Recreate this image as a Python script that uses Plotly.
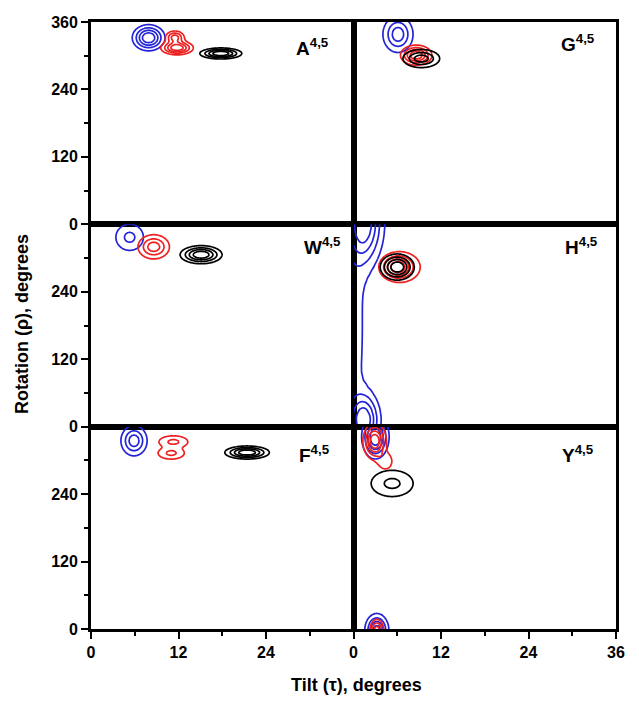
import numpy as np
import plotly.graph_objects as go
from plotly.subplots import make_subplots

# Peak parameters: [tilt, rotation, sd_tilt, sd_rot, weight]
A_blue = [[7.9, 332, 1.25, 13, 1.0]]
A_red = [[11.8, 314, 1.25, 7, 1.0], [11.5, 333, 0.8, 7, 0.7]]
A_black = [[17.8, 304, 1.6, 5.5, 1.0]]

G_blue = [[6.1, 338, 1.15, 18, 1.0]]
G_red = [[8.6, 301, 1.2, 10, 1.0]]
G_black = [[9.3, 295, 1.4, 9, 1.0]]

W_blue = [[5.3, 337, 1.05, 13, 1.0]]
W_red = [[8.6, 320, 1.2, 12, 1.0]]
W_black = [[15.1, 306, 1.6, 9, 1.0]]

H_blue = [[1.5, 12, 1.3, 28, 1.0], [1.5, 362, 1.6, 45, 1.0], [0.0, 180, 1.6, 200, 0.3]]
H_red = [[6.0, 284, 1.3, 13, 1.0], [7.0, 284, 2.4, 24, 0.3]]
H_black = [[6.0, 284, 1.3, 13, 1.0]]

F_blue = [[5.9, 335, 1.0, 15, 1.0]]
F_red = [[11.3, 333, 1.1, 6, 1.0], [11.0, 313, 1.0, 6, 1.0]]
F_black = [[21.4, 314, 1.7, 6.5, 1.0]]

Y_blue = [[3.0, 342, 1.05, 22, 1.0], [3.2, -2, 0.95, 17, 0.9]]
Y_red = [[2.9, 334, 0.9, 18, 1.0], [4.4, 298, 0.8, 12, 0.35], [3.2, -2, 0.6, 12, 0.7]]
Y_black = [[5.3, 259, 1.6, 13, 1.0]]

# number of contour rings per series: blue, red, black
A_rings = [4, 4, 4]
G_rings = [3, 4, 3]
W_rings = [2, 3, 4]
H_rings = [4, 4, 4]
F_rings = [3, 2, 4]
Y_rings = [4, 4, 2]

panel_names = ["A", "G", "W", "H", "F", "Y"]
panel_rows = [1, 1, 2, 2, 3, 3]
panel_cols = [1, 2, 1, 2, 1, 2]
label_x = [0.842, 0.857, 0.88, 0.868, 0.853, 0.857]
label_y = [0.875, 0.895, 0.892, 0.892, 0.864, 0.864]

x_ticks_left = [0, 12, 24]
x_ticks_right = [0, 12, 24, 36]
x_minor = [6, 18, 30]
y_ticks_top = [0, 120, 240, 360]
y_ticks_other = [0, 120, 240]
y_minor = [60, 180, 300]

series = {
    "A": (A_blue, A_red, A_black, A_rings),
    "G": (G_blue, G_red, G_black, G_rings),
    "W": (W_blue, W_red, W_black, W_rings),
    "H": (H_blue, H_red, H_black, H_rings),
    "F": (F_blue, F_red, F_black, F_rings),
    "Y": (Y_blue, Y_red, Y_black, Y_rings),
}
colors = ["#2323d8", "#ee2020", "#000000"]


def density(peaks):
    p = np.array(peaks, dtype=float)
    tmin = (p[:, 0] - 4.5 * p[:, 2]).min()
    tmax = (p[:, 0] + 4.5 * p[:, 2]).max()
    rmin = (p[:, 1] - 4.5 * p[:, 3]).min()
    rmax = (p[:, 1] + 4.5 * p[:, 3]).max()
    t = np.linspace(tmin, tmax, 90)
    r = np.linspace(rmin, rmax, 140)
    T, R = np.meshgrid(t, r)
    Z = np.zeros_like(T)
    for t0, r0, st, sr, w in p:
        Z += w * np.exp(-0.5 * ((T - t0) / st) ** 2 - 0.5 * ((R - r0) / sr) ** 2)
    Z /= Z.max()
    return t, r, np.round(Z, 4)


fig = make_subplots(rows=3, cols=2, horizontal_spacing=0, vertical_spacing=0)

for i, name in enumerate(panel_names):
    row, col = panel_rows[i], panel_cols[i]
    b, rd, bk, rings = series[name]
    for peaks, color, n in zip([b, rd, bk], colors, rings):
        t, r, Z = density(peaks)
        if n > 1:
            start, end = 0.2, 0.8
            size = (end - start) / (n - 1)
        else:
            start, end, size = 0.3, 0.3, 1
        fig.add_trace(
            go.Contour(
                x=t, y=r, z=Z,
                contours=dict(coloring="none", start=start, end=end + 1e-6, size=size),
                line=dict(color=color, width=1.7),
                showscale=False, hoverinfo="skip", showlegend=False,
            ),
            row=row, col=col,
        )
    k = i + 1
    xref = "x domain" if k == 1 else f"x{k} domain"
    yref = "y domain" if k == 1 else f"y{k} domain"
    fig.add_annotation(
        x=label_x[i], y=label_y[i], xref=xref, yref=yref,
        text=f"<b>{name}<sup>4,5</sup></b>", showarrow=False,
        font=dict(family="Liberation Sans", size=19, color="black"),
        xanchor="center", yanchor="middle",
    )

axis_common = dict(showline=True, linecolor="black", linewidth=2.8, mirror=True,
                   showgrid=False, zeroline=False)
tickfont = dict(family="Liberation Sans", size=16, color="black", weight="bold")

for i in range(6):
    row, col = panel_rows[i], panel_cols[i]
    xa = dict(axis_common, range=[0, 36])
    if row == 3:
        xa.update(ticks="outside", ticklen=7, tickwidth=2.2, tickcolor="black",
                  tickvals=x_ticks_left if col == 1 else x_ticks_right,
                  tickfont=tickfont,
                  minor=dict(tickvals=x_minor, ticks="outside", ticklen=4,
                             tickwidth=2.2, tickcolor="black"))
    else:
        xa.update(showticklabels=False, ticks="")
    ya = dict(axis_common, range=[0, 360])
    if col == 1:
        ya.update(ticks="outside", ticklen=7, tickwidth=2.2, tickcolor="black",
                  tickvals=y_ticks_top if row == 1 else y_ticks_other,
                  tickfont=tickfont,
                  minor=dict(tickvals=y_minor, ticks="outside", ticklen=4,
                             tickwidth=2.2, tickcolor="black"))
    else:
        ya.update(showticklabels=False, ticks="")
    fig.update_xaxes(row=row, col=col, **xa)
    fig.update_yaxes(row=row, col=col, **ya)

fig.add_annotation(x=-0.130, y=0.502, xref="paper", yref="paper", textangle=-90,
                   text="<b>Rotation (ρ), degrees</b>", showarrow=False,
                   xanchor="center", yanchor="middle",
                   font=dict(family="Liberation Sans", size=18, color="black"))
fig.add_annotation(x=0.505, y=-0.093, xref="paper", yref="paper",
                   text="<b>Tilt (τ), degrees</b>", showarrow=False,
                   xanchor="center", yanchor="middle",
                   font=dict(family="Liberation Sans", size=18, color="black"))

# sized so that the page (with the 8px body margin) fits inside the window
fig.update_layout(width=623, height=688, margin=dict(l=83, r=8, t=6, b=67),
                  paper_bgcolor="white", plot_bgcolor="white")

fig.write_html("out.html")
